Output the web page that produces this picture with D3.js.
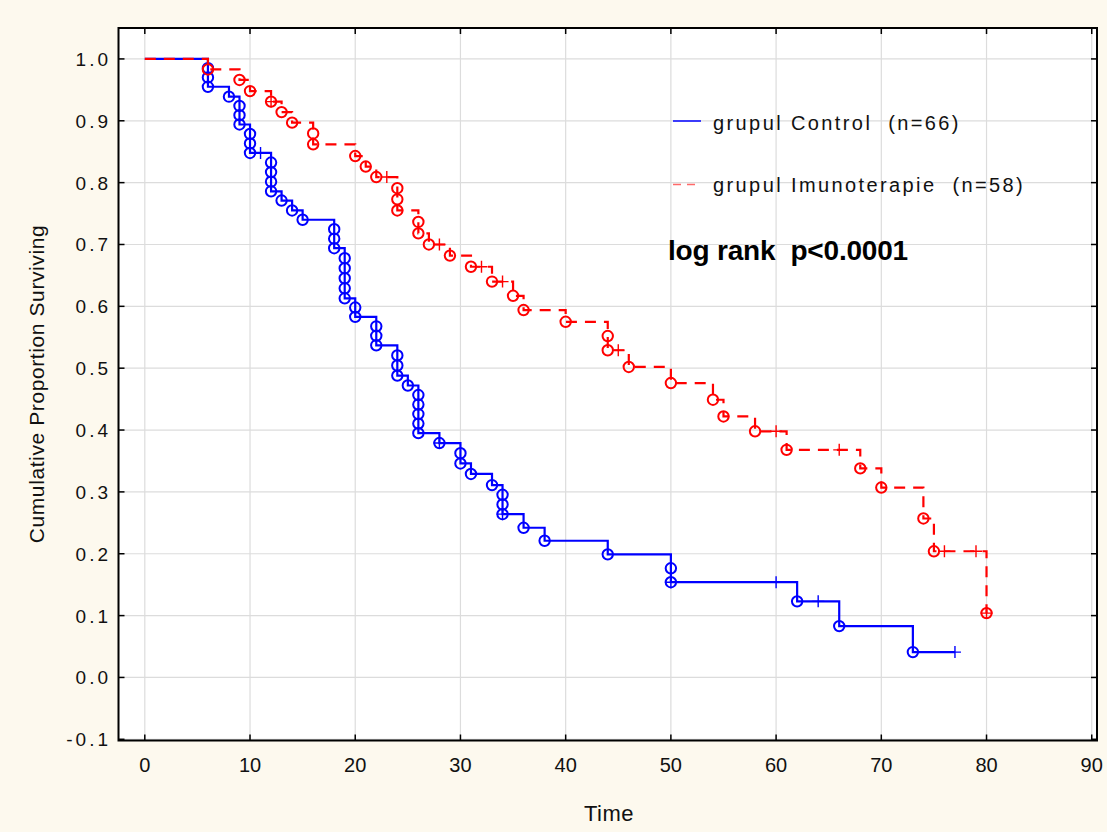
<!DOCTYPE html>
<html>
<head>
<meta charset="utf-8">
<script src="https://cdn.jsdelivr.net/npm/d3@7/dist/d3.min.js"></script>
<style>
  html, body { margin: 0; padding: 0; background: #fdf9ee; }
  svg { display: block; }
  text { font-family: "Liberation Sans", Arial, sans-serif; white-space: pre; }
</style>
</head>
<body>
<svg id="chart" width="1107" height="832"></svg>
<script>
// ---------------- DATA ----------------
// grupul Control (n=66)
const controlTimes    = [6, 8, 9, 10, 12, 13, 14, 15, 18, 19, 20, 22, 24, 25, 26, 28, 30, 31, 33, 34, 36, 38, 44, 50, 62, 66, 73];
const controlDeaths   = [3, 1, 3, 3, 4, 1, 1, 1, 3, 5, 2, 3, 3, 1, 5, 1, 2, 1, 1, 3, 1, 1, 1, 2, 1, 1, 1];
const controlSurvival = [0.955, 0.939, 0.894, 0.848, 0.786, 0.771, 0.755, 0.740, 0.694, 0.613, 0.583, 0.537, 0.488, 0.472, 0.395, 0.379, 0.346, 0.329, 0.311, 0.264, 0.242, 0.221, 0.199, 0.154, 0.123, 0.083, 0.041];
const controlCensored = [11, 28, 34, 50, 60, 64, 77];

// grupul Imunoterapie (n=58)
const immunoTimes    = [6, 9, 10, 12, 13, 14, 16, 20, 21, 22, 24, 26, 27, 29, 31, 33, 35, 36, 40, 44, 46, 50, 54, 55, 58, 61, 68, 70, 74, 75, 80];
const immunoDeaths   = [1, 1, 1, 1, 1, 1, 2, 1, 1, 1, 3, 2, 1, 1, 1, 1, 1, 1, 1, 2, 1, 1, 1, 1, 1, 1, 1, 1, 1, 1, 1];
const immunoSurvival = [0.983, 0.966, 0.948, 0.931, 0.914, 0.897, 0.862, 0.843, 0.826, 0.809, 0.755, 0.718, 0.700, 0.682, 0.664, 0.640, 0.617, 0.594, 0.575, 0.529, 0.502, 0.476, 0.449, 0.422, 0.398, 0.368, 0.338, 0.307, 0.257, 0.204, 0.104];
const immunoCensored = [12, 23, 28, 32, 34, 45, 60, 66, 76, 79, 80];

const xTicks = [0, 10, 20, 30, 40, 50, 60, 70, 80, 90];
const yTicks = [-0.1, 0.0, 0.1, 0.2, 0.3, 0.4, 0.5, 0.6, 0.7, 0.8, 0.9, 1.0];

const legendLabels = ["grupul Control  (n=66)", "grupul Imunoterapie  (n=58)"];
const annotation = "log rank  p<0.0001";
const xTitle = "Time";
const yTitle = "Cumulative Proportion Surviving";

// ---------------- LAYOUT ----------------
const box = { left: 118.5, top: 28, right: 1097, bottom: 740.5 };
const svg = d3.select("#chart");

const x = d3.scaleLinear().domain([-2.5, 90.5]).range([box.left, box.right]);
const y = d3.scaleLinear().domain([-0.1, 1.05]).range([739.3, box.top]);

// plot background
svg.append("rect")
  .attr("x", box.left).attr("y", box.top)
  .attr("width", box.right - box.left).attr("height", box.bottom - box.top)
  .attr("fill", "#ffffff");

// grid
const grid = svg.append("g");
grid.selectAll("line.vx").data(xTicks).join("line")
  .attr("x1", d => x(d)).attr("x2", d => x(d))
  .attr("y1", box.top).attr("y2", box.bottom)
  .attr("stroke", "#dcdcdc").attr("stroke-width", 1.2);
grid.selectAll("line.hy").data(yTicks).join("line")
  .attr("y1", d => y(d)).attr("y2", d => y(d))
  .attr("x1", box.left).attr("x2", box.right)
  .attr("stroke", "#dcdcdc").attr("stroke-width", 1.2);

// ---------------- CURVES ----------------
function stepPath(times, surv, censored) {
  const pts = [[0, 1]];
  let prev = 1;
  times.forEach((t, i) => {
    pts.push([t, prev]);
    pts.push([t, surv[i]]);
    prev = surv[i];
  });
  const lastT = Math.max(times[times.length - 1], d3.max(censored));
  pts.push([lastT, prev]);
  return pts;
}
function circlePts(times, deaths, surv) {
  const out = [];
  let prev = 1;
  times.forEach((t, i) => {
    const k = deaths[i];
    for (let j = 1; j <= k; j++) out.push([t, prev - j * (prev - surv[i]) / k]);
    prev = surv[i];
  });
  return out;
}
function survAt(times, surv, t) {
  let s = 1;
  times.forEach((tt, i) => { if (tt <= t) s = surv[i]; });
  return s;
}

const line = d3.line().x(d => x(d[0])).y(d => y(d[1]));

function drawSeries(times, deaths, surv, censored, color, dash) {
  const g = svg.append("g");
  g.append("path")
    .attr("d", line(stepPath(times, surv, censored)))
    .attr("fill", "none").attr("stroke", color).attr("stroke-width", 2.2)
    .attr("stroke-dasharray", dash);
  g.selectAll("circle").data(circlePts(times, deaths, surv)).join("circle")
    .attr("cx", d => x(d[0])).attr("cy", d => y(d[1])).attr("r", 5.2)
    .attr("fill", "none").attr("stroke", color).attr("stroke-width", 2);
  const cz = censored.map(t => [t, survAt(times, surv, t)]);
  g.selectAll("path.cens").data(cz).join("path")
    .attr("d", d => {
      const cx = x(d[0]), cy = y(d[1]);
      return `M${cx - 6},${cy}H${cx + 6}M${cx},${cy - 6}V${cy + 6}`;
    })
    .attr("stroke", color).attr("stroke-width", 1.4).attr("fill", "none");
}

drawSeries(controlTimes, controlDeaths, controlSurvival, controlCensored, "#0000ff", null);
drawSeries(immunoTimes, immunoDeaths, immunoSurvival, immunoCensored, "#ff0000", "11,8");

// ---------------- FRAME & TICKS ----------------
svg.append("rect")
  .attr("x", box.left).attr("y", box.top)
  .attr("width", box.right - box.left).attr("height", box.bottom - box.top)
  .attr("fill", "none").attr("stroke", "#000").attr("stroke-width", 2);

const ticks = svg.append("g").attr("stroke", "#000").attr("stroke-width", 1.5);
xTicks.forEach(t => {
  ticks.append("line").attr("x1", x(t)).attr("x2", x(t)).attr("y1", box.bottom).attr("y2", box.bottom - 6);
  ticks.append("line").attr("x1", x(t)).attr("x2", x(t)).attr("y1", box.top).attr("y2", box.top + 6);
});
yTicks.forEach(t => {
  ticks.append("line").attr("y1", y(t)).attr("y2", y(t)).attr("x1", box.left).attr("x2", box.left + 6);
  ticks.append("line").attr("y1", y(t)).attr("y2", y(t)).attr("x1", box.right).attr("x2", box.right - 6);
});

// tick labels
svg.append("g").selectAll("text").data(xTicks).join("text")
  .attr("x", d => x(d)).attr("y", 772)
  .attr("text-anchor", "middle").attr("font-size", 20).attr("fill", "#111")
  .text(d => String(d));

svg.append("g").selectAll("text").data(yTicks).join("text")
  .attr("x", 111).attr("y", d => y(d) + 7)
  .attr("text-anchor", "end").attr("font-size", 19).attr("letter-spacing", 3).attr("fill", "#111")
  .text(d => d.toFixed(1));

// axis titles
svg.append("text")
  .attr("x", 609).attr("y", 821).attr("text-anchor", "middle")
  .attr("font-size", 22).attr("letter-spacing", 0.5).attr("fill", "#111").text(xTitle);

svg.append("text")
  .attr("transform", "translate(44,384) rotate(-90)")
  .attr("text-anchor", "middle").attr("font-size", 21).attr("letter-spacing", 0.6).attr("fill", "#111").text(yTitle);

// legend
const lg = svg.append("g");
lg.append("line").attr("x1", 673).attr("x2", 701).attr("y1", 121).attr("y2", 121)
  .attr("stroke", "#0000ff").attr("stroke-width", 1.5);
lg.append("line").attr("x1", 673).attr("x2", 698).attr("y1", 184.5).attr("y2", 184.5)
  .attr("stroke", "#ff6a6a").attr("stroke-width", 1.5).attr("stroke-dasharray", "8,6");
lg.selectAll("text").data(legendLabels).join("text")
  .attr("x", 713).attr("y", (d, i) => i === 0 ? 130 : 191.5)
  .attr("font-size", 20).attr("letter-spacing", 2.4).attr("fill", "#111")
  .text(d => d);

svg.append("text")
  .attr("x", 668).attr("y", 260)
  .attr("font-size", 28).attr("font-weight", "bold").attr("letter-spacing", -0.2).attr("fill", "#000")
  .text(annotation);
</script>
</body>
</html>
